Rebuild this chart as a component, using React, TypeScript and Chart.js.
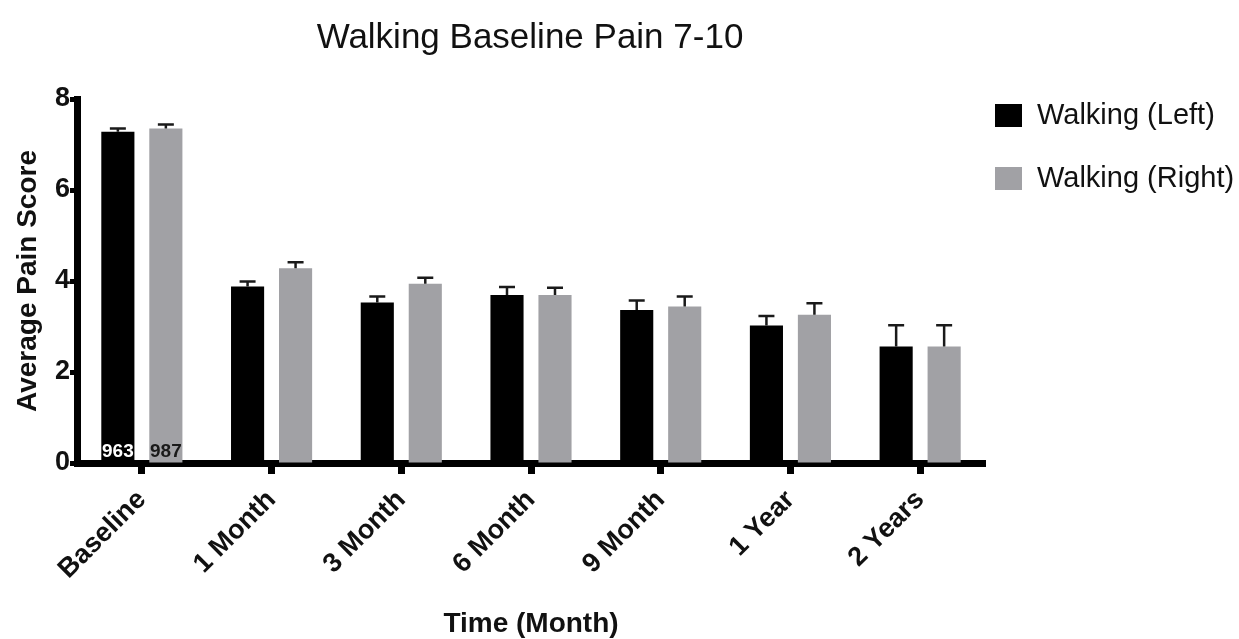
import React, { useEffect, useRef } from "react";
import { Chart, registerables } from "chart.js";

Chart.register(...registerables);

const categories = ["Baseline", "1 Month", "3 Month", "6 Month", "9 Month", "1 Year", "2 Years"];
const leftValues = [7.28, 3.88, 3.53, 3.69, 3.36, 3.02, 2.56];
const leftErrors = [0.07, 0.11, 0.13, 0.18, 0.21, 0.21, 0.47];
const rightValues = [7.35, 4.28, 3.94, 3.69, 3.44, 3.26, 2.56];
const rightErrors = [0.09, 0.13, 0.13, 0.16, 0.22, 0.25, 0.47];
const baselineCounts = ["963", "987"];
const seriesNames = ["Walking (Left)", "Walking (Right)"];
const titleText = "Walking Baseline Pain 7-10";
const yTicks = [0, 2, 4, 6, 8];

const FONT = "'Liberation Sans', Arial, Helvetica, sans-serif";
const BLACK = "#000000";
const GREY = "#a1a1a5";

const errorBarPlugin = {
  id: "errorBars",
  afterDatasetsDraw(chart: any) {
    const ctx = chart.ctx;
    const yScale = chart.scales.y;
    const errs = [leftErrors, rightErrors];
    ctx.save();
    ctx.strokeStyle = "#1a1a1a";
    ctx.lineWidth = 2.5;
    chart.data.datasets.forEach((ds: any, i: number) => {
      const meta = chart.getDatasetMeta(i);
      meta.data.forEach((el: any, j: number) => {
        const v = ds.data[j];
        const top = yScale.getPixelForValue(v + errs[i][j]);
        ctx.beginPath();
        ctx.moveTo(el.x, el.y);
        ctx.lineTo(el.x, top);
        ctx.moveTo(el.x - 8, top);
        ctx.lineTo(el.x + 8, top);
        ctx.stroke();
      });
    });
    // counts inside baseline bars
    ctx.font = `bold 19px ${FONT}`;
    ctx.textAlign = "center";
    ctx.textBaseline = "middle";
    chart.data.datasets.forEach((_ds: any, i: number) => {
      const el = chart.getDatasetMeta(i).data[0];
      ctx.fillStyle = i === 0 ? "#ffffff" : "#1a1a1a";
      ctx.fillText(baselineCounts[i], el.x, yScale.getPixelForValue(0) - 11);
    });
    ctx.restore();
  },
  afterDraw(chart: any) {
    const ctx = chart.ctx;
    const area = chart.chartArea;
    ctx.save();
    // title
    ctx.fillStyle = "#111111";
    ctx.font = `35px ${FONT}`;
    ctx.textAlign = "center";
    ctx.textBaseline = "middle";
    ctx.fillText(titleText, (area.left + area.right) / 2 - 1, 38);
    // legend
    ctx.font = `29px ${FONT}`;
    ctx.textAlign = "left";
    chart.data.datasets.forEach((ds: any, i: number) => {
      const y = 104 + i * 63;
      ctx.fillStyle = ds.backgroundColor;
      ctx.fillRect(area.right + 10, y, 27, 23);
      ctx.fillStyle = "#111111";
      ctx.fillText(seriesNames[i], area.right + 52, y + 12);
    });
    ctx.restore();
  },
};

export default function App() {
  const ref = useRef<HTMLCanvasElement | null>(null);
  useEffect(() => {
    if (!ref.current) return;
    const chart = new Chart(ref.current, {
      type: "bar",
      data: {
        labels: categories,
        datasets: [
          { label: seriesNames[0], data: leftValues, backgroundColor: BLACK, barPercentage: 0.69, categoryPercentage: 0.74 },
          { label: seriesNames[1], data: rightValues, backgroundColor: GREY, barPercentage: 0.69, categoryPercentage: 0.74 },
        ],
      },
      options: {
        animation: false,
        responsive: false,
        devicePixelRatio: 1,
        layout: { padding: { top: 99, right: 254, bottom: 0, left: 0 } },
        plugins: { legend: { display: false }, title: { display: false }, tooltip: { enabled: false } },
        scales: {
          x: {
            z: 1,
            grid: { display: true, offset: false, drawOnChartArea: false, drawTicks: true, tickLength: 11, tickWidth: 7, color: BLACK },
            border: { display: true, width: 7, color: BLACK },
            ticks: {
              color: "#111111",
              font: { family: FONT, size: 27, weight: "bold" },
              maxRotation: 45,
              minRotation: 45,
              padding: 10,
              labelOffset: 0,
            },
            title: {
              display: true,
              text: "Time (Month)",
              color: "#111111",
              font: { family: FONT, size: 28, weight: "bold", lineHeight: 1 },
              padding: { top: 0, bottom: 1 },
            },
            afterFit(scale: any) {
              scale.height = 176;
            },
          },
          y: {
            z: 1,
            min: 0,
            max: 8,
            afterBuildTicks(scale: any) {
              scale.ticks = yTicks.map((v) => ({ value: v }));
            },
            grid: { display: true, drawOnChartArea: false, drawTicks: true, tickLength: 7, tickWidth: 5, color: BLACK },
            border: { display: true, width: 7, color: BLACK },
            ticks: {
              color: "#111111",
              font: { family: FONT, size: 27, weight: "bold" },
              padding: 0,
            },
            title: {
              display: true,
              text: "Average Pain Score",
              color: "#111111",
              font: { family: FONT, size: 28, weight: "bold", lineHeight: 1 },
              padding: { top: 14, bottom: 0 },
            },
            afterFit(scale: any) {
              scale.width = 77;
            },
          },
        },
      },
      plugins: [errorBarPlugin],
    });
    return () => chart.destroy();
  }, []);
  return (
    <div style={{ position: "fixed", left: 0, top: 0, width: 1239, height: 639, background: "#fff" }}>
      <canvas ref={ref} width={1239} height={639} />
    </div>
  );
}
